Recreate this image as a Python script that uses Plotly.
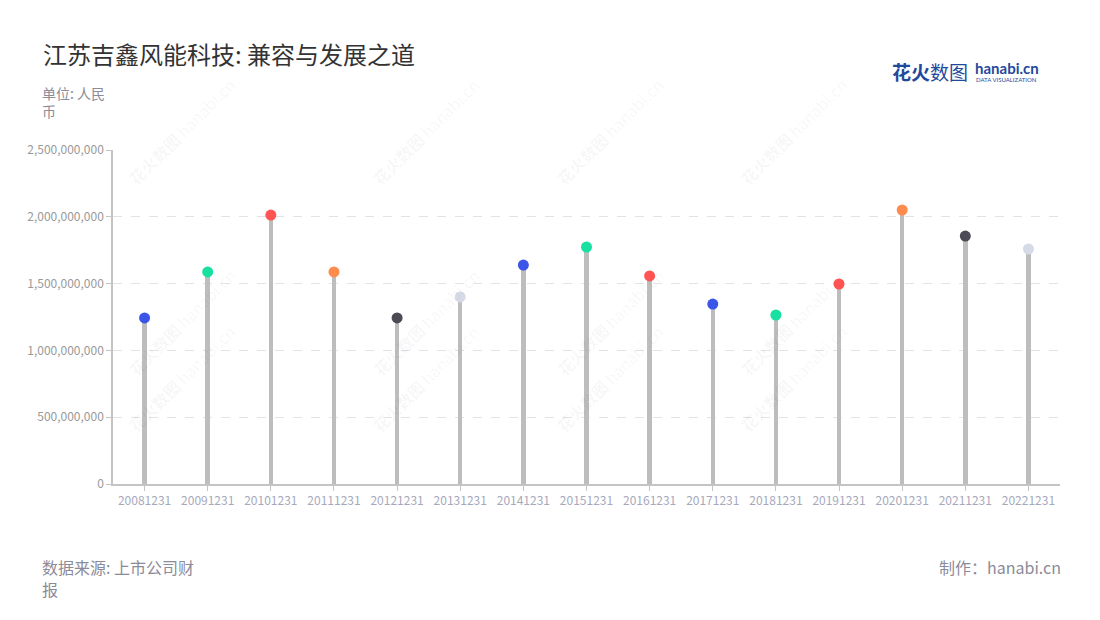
import plotly.graph_objects as go

categories = ["20081231", "20091231", "20101231", "20111231", "20121231", "20131231",
              "20141231", "20151231", "20161231", "20171231", "20181231", "20191231",
              "20201231", "20211231", "20221231"]
values = [1.243e9, 1.587e9, 2.013e9, 1.587e9, 1.243e9, 1.400e9,
          1.639e9, 1.774e9, 1.557e9, 1.347e9, 1.265e9, 1.497e9,
          2.051e9, 1.856e9, 1.759e9]
marker_colors = ["#3a55e8", "#17e0a0", "#ff5552", "#ff8c4f", "#4b4a55", "#d5dae6",
                 "#3a55e8", "#17e0a0", "#ff5552", "#3a55e8", "#17e0a0", "#ff5552",
                 "#ff8c4f", "#4b4a55", "#d5dae6"]
tick_vals = [0, 5e8, 1e9, 1.5e9, 2e9, 2.5e9]
tick_text = ["0", "500,000,000", "1,000,000,000", "1,500,000,000", "2,000,000,000", "2,500,000,000"]

FONT = "Noto Sans CJK SC, Noto Sans, sans-serif"

fig = go.Figure()
fig.add_trace(go.Bar(x=categories, y=values, width=0.07,
                     marker=dict(color="#bdbdbd", line=dict(width=0)),
                     hoverinfo="skip", showlegend=False))
fig.add_trace(go.Scatter(x=categories, y=values, mode="markers",
                         marker=dict(size=11, color=marker_colors, line=dict(width=0)),
                         showlegend=False))

# faint watermarks
for wx in [0.008, 0.266, 0.525, 0.784]:
    for wy in [1.24, 0.67, 0.132]:
        fig.add_annotation(x=wx, y=wy, xref="paper", yref="paper", showarrow=False,
                           text="<b>花火数图</b> hanabi.cn", textangle=-45,
                           font=dict(family=FONT, size=16, color="rgba(0,0,0,0.045)"))

fig.update_layout(
    width=1100, height=620,
    paper_bgcolor="white", plot_bgcolor="white",
    margin=dict(l=105, r=48, t=142, b=144),
    font=dict(family=FONT, color="#999"),
    bargap=0,
    title=dict(text="江苏吉鑫风能科技: 兼容与发展之道", x=0.0318, xanchor="left",
               y=0.924, yanchor="middle",
               font=dict(family=FONT, size=24, color="#333")),
    xaxis=dict(type="category", range=[-0.5, 14.5], showgrid=False,
               showline=True, linecolor="#c4c4c4", linewidth=1.5,
               ticks="outside", ticklen=5, tickcolor="#c4c4c4",
               tickfont=dict(family=FONT, size=12, color="#a6a9bb")),
    yaxis=dict(range=[0, 2.5e9], tickvals=tick_vals, ticktext=tick_text,
               showgrid=True, gridcolor="#e3e3e3", griddash="dash", gridwidth=1,
               zeroline=False,
               showline=True, linecolor="#c4c4c4", linewidth=1.5,
               ticks="outside", ticklen=5, tickcolor="#c4c4c4",
               tickfont=dict(family=FONT, size=12, color="#999")),
)

# unit label
fig.add_annotation(xref="paper", yref="paper", x=-0.077, y=1.207, xanchor="left", yanchor="top",
                   text="单位: 人民<br>币", showarrow=False, align="left",
                   font=dict(family=FONT, size=14, color="#8b8b99"))
# source (two lines)
fig.add_annotation(xref="paper", yref="paper", x=-0.077, y=(484 - 567) / 334, xanchor="left",
                   yanchor="middle", text="数据来源: 上市公司财", showarrow=False, align="left",
                   font=dict(family=FONT, size=16, color="#8b8b99"))
fig.add_annotation(xref="paper", yref="paper", x=-0.077, y=(484 - 589) / 334, xanchor="left",
                   yanchor="middle", text="报", showarrow=False, align="left",
                   font=dict(family=FONT, size=16, color="#8b8b99"))
# maker
fig.add_annotation(xref="paper", yref="paper", x=1.003, y=(484 - 567) / 334, xanchor="right",
                   yanchor="middle", text="制作：hanabi.cn", showarrow=False, align="right",
                   font=dict(family=FONT, size=16, color="#8b8b99"))
# logo
fig.add_annotation(xref="paper", yref="paper", x=0.821, y=1.234, xanchor="left", yanchor="middle",
                   text="<b>花火</b>数图", showarrow=False,
                   font=dict(family=FONT, size=19, color="#1f4a9c"))
fig.add_annotation(xref="paper", yref="paper", x=0.908, y=1.246, xanchor="left", yanchor="middle",
                   text="<b>hanabi.cn</b>", showarrow=False,
                   font=dict(family="Lato, sans-serif", size=15, color="#1f4a9c"))
fig.add_annotation(xref="paper", yref="paper", x=0.909, y=1.212, xanchor="left", yanchor="middle",
                   text="DATA VISUALIZATION", showarrow=False,
                   font=dict(family="Lato, sans-serif", size=6, color="#1f4a9c"))

fig.write_html("out.html")
